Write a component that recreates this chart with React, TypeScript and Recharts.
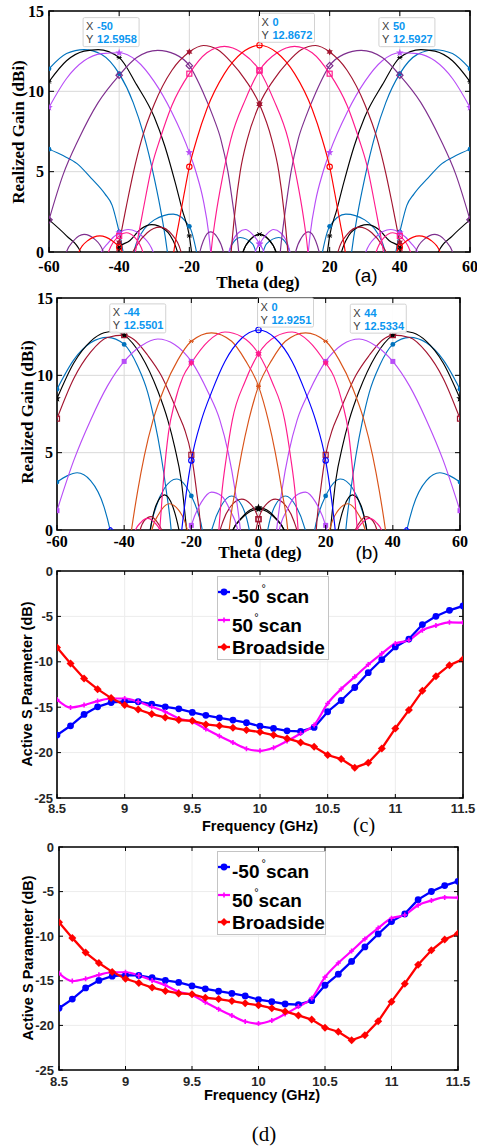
import React from 'react';
import { LineChart, Line, XAxis, YAxis, CartesianGrid, ReferenceArea, ReferenceDot } from 'recharts';

type Pt = [number, number];

// ---------- (a) realized gain patterns, [theta deg, gain dBi]
const aBlueL: Pt[] = [[-60, 11.4], [-55, 12.35], [-50, 12.6], [-45, 12.3], [-40, 11.1], [-36, 9.3], [-33, 7.3], [-30, 4.6], [-28, 2.4], [-26, -0.5], [-24, -6], [-3, -6], [0, -1], [2, 0.5], [5.5, 0.9], [8, 0.4], [10, -1.5], [14, -6], [17.5, -0.5], [20, 1.6], [24.6, 2.36], [30, 2.0], [35, 0.6], [37.5, -1], [40, 1.25], [42, 2.9], [44, 3.6], [48, 4.6], [52, 5.5], [56, 6.0], [60, 6.4]];
const aBlueR: Pt[] = [[-60, 6.4], [-56, 6.0], [-52, 5.5], [-48, 4.6], [-44, 3.6], [-42, 2.9], [-40, 1.25], [-37.5, -1], [-35, 0.6], [-30, 2.0], [-24.6, 2.36], [-20, 1.6], [-17.5, -0.5], [-14, -6], [-10, -1.5], [-8, 0.4], [-5.5, 0.9], [-2, 0.5], [0, -1], [3, -6], [24, -6], [26, -0.5], [28, 2.4], [30, 4.6], [33, 7.3], [36, 9.3], [40, 11.1], [45, 12.3], [50, 12.59], [55, 12.35], [60, 11.4]];
const aBlackL: Pt[] = [[-60, 10.6], [-55, 11.9], [-50, 12.5], [-46, 12.6], [-40, 12.1], [-35, 10.4], [-30, 8.4], [-27, 6.6], [-24, 4.3], [-22, 2.6], [-20, 1.0], [-18.8, -1], [-16, -6], [-7, -3], [-5, -0.2], [-2.5, 0.8], [0, 1.1], [2.5, 0.8], [5, -0.2], [7, -3], [15, -6], [22, -1], [24, 0.4], [27, 1.4], [30.7, 1.7], [34, 1.4], [37, 0.7], [40, 0.3], [42, -3], [49, -3], [51, 0], [55, 1.0], [60, 2.0]];
const aBlackR: Pt[] = [[-60, 2.0], [-55, 1.0], [-51, 0], [-49, -3], [-42, -3], [-40, 0.3], [-37, 0.7], [-34, 1.4], [-30.7, 1.7], [-27, 1.4], [-24, 0.4], [-22, -1], [-15, -6], [-7, -3], [-5, -0.2], [-2.5, 0.8], [0, 1.1], [2.5, 0.8], [5, -0.2], [7, -3], [16, -6], [18.8, -1], [20, 1.0], [22, 2.6], [24, 4.3], [27, 6.6], [30, 8.4], [35, 10.4], [40, 12.1], [46, 12.6], [50, 12.5], [55, 11.9], [60, 10.6]];
const aVioletL: Pt[] = [[-60, 9.0], [-55, 10.8], [-50, 11.9], [-45, 12.35], [-40, 12.4], [-35, 11.9], [-30, 10.6], [-25, 8.7], [-20, 6.2], [-18, 4.9], [-16, 3.2], [-14.5, 1.2], [-13.5, -1], [-12, -6], [-3, -3], [-1.5, -0.2], [0, 0.5], [2, 1.1], [4, 1.4], [6, 1.2], [8, 0.5], [9.5, -0.8], [12, -6], [28, -3], [30, -0.2], [33, 0.9], [37.4, 1.4], [40, 1.2], [43, 0.6], [46, -0.5], [48, -6]];
const aVioletR: Pt[] = [[-48, -6], [-46, -0.5], [-43, 0.6], [-40, 1.2], [-37.4, 1.4], [-33, 0.9], [-30, -0.2], [-28, -3], [-12, -6], [-9.5, -0.8], [-8, 0.5], [-6, 1.2], [-4, 1.4], [-2, 1.1], [0, 0.5], [1.5, -0.2], [3, -3], [12, -6], [13.5, -1], [14.5, 1.2], [16, 3.2], [18, 4.9], [20, 6.2], [25, 8.7], [30, 10.6], [35, 11.9], [40, 12.4], [45, 12.35], [50, 11.9], [55, 10.8], [60, 9.0]];
const aPurpleL: Pt[] = [[-60, 2.0], [-56, 4.8], [-51.6, 7.0], [-46, 9.3], [-40, 11.0], [-35, 12.1], [-29, 12.55], [-24, 12.3], [-20, 11.6], [-16, 9.9], [-13, 8.3], [-11, 7.0], [-9, 5.0], [-7.5, 2.8], [-6.2, 0.6], [-5.5, -1], [-4, -6], [8, -4], [10, -0.3], [12, 0.9], [14, 1.25], [16, 0.7], [17.5, -0.5], [20, -5], [42, -3], [44.5, 0], [47, 0.8], [50, 1.1], [53, 0.7], [55.5, -0.3], [58, -4]];
const aPurpleR: Pt[] = [[-58, -4], [-55.5, -0.3], [-53, 0.7], [-50, 1.1], [-47, 0.8], [-44.5, 0], [-42, -3], [-20, -5], [-17.5, -0.5], [-16, 0.7], [-14, 1.25], [-12, 0.9], [-10, -0.3], [-8, -4], [4, -6], [5.5, -1], [6.2, 0.6], [7.5, 2.8], [9, 5.0], [11, 7.0], [13, 8.3], [16, 9.9], [20, 11.6], [24, 12.3], [29, 12.55], [35, 12.1], [40, 11.0], [46, 9.3], [51.6, 7.0], [56, 4.8], [60, 2.0]];
const aDarkRedL: Pt[] = [[-43, -4], [-41, -0.3], [-40, 0.6], [-38, 2.8], [-36, 4.9], [-33.6, 7.0], [-30, 9.2], [-25, 11.3], [-20, 12.45], [-16, 12.85], [-12, 12.6], [-8, 11.8], [-4, 10.7], [0, 9.2], [3.5, 7.0], [5.5, 5.0], [7, 2.5], [8, 0.2], [8.7, -2], [10, -6], [20, -4], [22, -0.3], [25, 1.1], [28.4, 1.55], [32, 1.2], [35, 0.4], [37, -0.6], [39, -5]];
const aDarkRedR: Pt[] = [[-39, -5], [-37, -0.6], [-35, 0.4], [-32, 1.2], [-28.4, 1.55], [-25, 1.1], [-22, -0.3], [-20, -4], [-10, -6], [-8.7, -2], [-8, 0.2], [-7, 2.5], [-5.5, 5.0], [-3.5, 7.0], [0, 9.2], [4, 10.7], [8, 11.8], [12, 12.6], [16, 12.85], [20, 12.45], [25, 11.3], [30, 9.2], [33.6, 7.0], [36, 4.9], [38, 2.8], [40, 0.6], [41, -0.3], [43, -4]];
const aPinkL: Pt[] = [[-38, -4], [-35.5, -0.2], [-33, 2.8], [-30.5, 5.5], [-28.4, 7.0], [-25, 9.1], [-20, 11.1], [-15, 12.4], [-10, 12.8], [-5, 12.4], [0, 11.3], [4, 9.5], [8.2, 7.0], [10.5, 4.7], [12.5, 2.2], [13.8, 0], [14.5, -2], [16, -6], [31, -3], [33, -0.2], [35.5, 0.9], [38, 1.2], [40, 1.0], [43.5, -0.3], [46, -4]];
const aPinkR: Pt[] = [[-46, -4], [-43.5, -0.3], [-40, 1.0], [-38, 1.2], [-35.5, 0.9], [-33, -0.2], [-31, -3], [-16, -6], [-14.5, -2], [-13.8, 0], [-12.5, 2.2], [-10.5, 4.7], [-8.2, 7.0], [-4, 9.5], [0, 11.3], [5, 12.4], [10, 12.8], [15, 12.4], [20, 11.1], [25, 9.1], [28.4, 7.0], [30.5, 5.5], [33, 2.8], [35.5, -0.2], [38, -4]];
const aRed: Pt[] = [[-54, -4], [-52, -0.3], [-49, 0.7], [-45.5, 1.0], [-42, 0.7], [-40, 0.3], [-38.5, -0.3], [-36, -5], [-26, -4], [-24.6, -0.3], [-23, 1.8], [-21.5, 3.6], [-20, 5.3], [-17.9, 7.0], [-15, 8.9], [-10, 11.1], [-5, 12.4], [0, 12.87], [5, 12.4], [10, 11.1], [15, 8.9], [17.9, 7.0], [20, 5.3], [21.5, 3.6], [23, 1.8], [24.6, -0.3], [26, -4], [36, -5], [38.5, -0.3], [40, 0.3], [42, 0.7], [45.5, 1.0], [49, 0.7], [52, -0.3], [54, -4]];

// ---------- (b)
const bBlue0: Pt[] = [[-46.5, -1], [-44, 0.15], [-41.5, -1], [-25, -5], [-23, -0.3], [-21.5, 2.4], [-20, 4.5], [-17, 7.1], [-14, 8.9], [-10, 10.9], [-5, 12.4], [0, 12.93], [5, 12.4], [10, 10.9], [14, 8.9], [17, 7.1], [20, 4.5], [21.5, 2.4], [23, -0.3], [25, -5], [41.5, -1], [44, 0.15], [46.5, -1]];
const bMBlueL: Pt[] = [[-60, 9.1], [-55, 11.0], [-50, 12.1], [-45, 12.45], [-40, 12.0], [-36, 10.6], [-33, 8.9], [-31, 7.1], [-29, 4.8], [-27.5, 2.6], [-26, 0], [-25, -3], [-20, -6], [0, -5], [2.5, -0.3], [5, 1.6], [8, 2.2], [11, 1.6], [13.5, 0.3], [14.7, -0.8], [15.6, -3], [16.5, -0.4], [18, 1.1], [20, 2.2], [24.4, 3.3], [28, 2.7], [30.5, 1.5], [32.4, -0.3], [34, -5], [42, -3], [44, -0.2], [46, 1.5], [50, 3.2], [54, 3.7], [57, 3.5], [60, 3.1]];
const bMBlueR: Pt[] = [[-60, 3.1], [-57, 3.5], [-54, 3.7], [-50, 3.2], [-46, 1.5], [-44, -0.2], [-42, -3], [-34, -5], [-32.4, -0.3], [-30.5, 1.5], [-28, 2.7], [-24.4, 3.3], [-20, 2.2], [-18, 1.1], [-16.5, -0.4], [-15.6, -3], [-14.7, -0.8], [-13.5, 0.3], [-11, 1.6], [-8, 2.2], [-5, 1.6], [-2.5, -0.3], [0, -5], [20, -6], [25, -3], [26, 0], [27.5, 2.6], [29, 4.8], [31, 7.1], [33, 8.9], [36, 10.6], [40, 12.0], [45, 12.45], [50, 12.1], [55, 11.0], [60, 9.1]];
const bBlackL: Pt[] = [[-60, 8.5], [-55, 10.8], [-50, 12.2], [-46, 12.75], [-43, 12.85], [-40, 12.6], [-35, 11.3], [-30, 9.0], [-27, 7.1], [-25, 5.4], [-23, 3.2], [-21.5, 0.2], [-20.5, -2], [-18, -6], [-11, -4], [-8, -0.2], [-5, 0.8], [-2.5, 1.3], [0, 1.45], [2.5, 1.3], [5, 0.8], [8, -0.2], [11, -4], [21, -4], [23.5, -0.2], [25.5, 1.5], [28, 2.27], [30.5, 1.6], [32.4, -0.2], [35, -5]];
const bBlackR: Pt[] = [[-35, -5], [-32.4, -0.2], [-30.5, 1.6], [-28, 2.27], [-25.5, 1.5], [-23.5, -0.2], [-21, -4], [-11, -4], [-8, -0.2], [-5, 0.75], [-2.5, 1.2], [0, 1.35], [2.5, 1.2], [5, 0.75], [8, -0.2], [11, -4], [18, -6], [20.5, -2], [21.5, 0.2], [23, 3.2], [25, 5.4], [27, 7.1], [30, 9.0], [35, 11.3], [40, 12.6], [43, 12.85], [46, 12.75], [50, 12.2], [55, 10.8], [60, 8.5]];
const bDarkRedL: Pt[] = [[-60, 7.2], [-55, 9.8], [-50, 11.5], [-45, 12.45], [-40, 12.6], [-37, 12.3], [-33, 11.3], [-29, 10.0], [-26, 8.6], [-23.5, 7.3], [-22, 6.5], [-20, 4.86], [-18.5, 2.6], [-17.2, 0], [-16.5, -3], [-14, -6], [-3, -4], [-1, -0.3], [0, 0.7], [2.5, 1.7], [5, 2.0], [8, 1.6], [10.5, 0.6], [12, -0.6], [14, -5], [26, -3], [28.5, -0.2], [30.5, 0.6], [32, 0.86], [34, 0.6], [35.5, -0.2], [38, -4]];
const bDarkRedR: Pt[] = [[-38, -4], [-35.5, -0.2], [-34, 0.6], [-32, 0.86], [-30.5, 0.6], [-28.5, -0.2], [-26, -3], [-14, -5], [-12, -0.6], [-10.5, 0.6], [-8, 1.6], [-5, 2.0], [-2.5, 1.7], [0, 0.7], [1, -0.3], [3, -4], [14, -6], [16.5, -3], [17.2, 0], [18.5, 2.6], [20, 4.86], [22, 6.5], [23.5, 7.3], [26, 8.6], [29, 10.0], [33, 11.3], [37, 12.3], [40, 12.6], [45, 12.45], [50, 11.5], [55, 9.8], [60, 7.2]];
const bVioletL: Pt[] = [[-60, 1.25], [-55, 4.5], [-50, 7.1], [-45, 9.3], [-40, 10.9], [-35, 11.9], [-30, 12.35], [-25, 12.0], [-20, 10.9], [-15, 8.9], [-11.5, 7.1], [-9, 5.0], [-7, 2.6], [-5.5, 0.2], [-4.5, -2], [-2, -6], [4, -4], [6, -0.2], [8.5, 1.3], [11, 2.2], [14, 2.45], [17, 1.8], [20, 0.3], [21, -0.5], [23, -4]];
const bVioletR: Pt[] = [[-23, -4], [-21, -0.5], [-20, 0.3], [-17, 1.8], [-14, 2.45], [-11, 2.2], [-8.5, 1.3], [-6, -0.2], [-4, -4], [2, -6], [4.5, -2], [5.5, 0.2], [7, 2.6], [9, 5.0], [11.5, 7.1], [15, 8.9], [20, 10.9], [25, 12.0], [30, 12.35], [35, 11.9], [40, 10.9], [45, 9.3], [50, 7.1], [55, 4.5], [60, 1.25]];
const bOrangeL: Pt[] = [[-40, -4], [-38, -0.3], [-36, 2.5], [-34, 4.8], [-31.4, 7.1], [-28, 9.2], [-24, 11.0], [-20, 12.2], [-14, 12.75], [-8, 12.2], [-4, 11.0], [0, 9.3], [2.9, 7.1], [5, 5.0], [7, 2.5], [8.8, -0.2], [10, -4], [19, -4], [21, -0.2], [23.5, 1.2], [26.6, 1.7], [29.5, 1.1], [32, -0.2], [34, -4]];
const bOrangeR: Pt[] = [[-34, -4], [-32, -0.2], [-29.5, 1.1], [-26.6, 1.7], [-23.5, 1.2], [-21, -0.2], [-19, -4], [-10, -4], [-8.8, -0.2], [-7, 2.5], [-5, 5.0], [-2.9, 7.1], [0, 9.3], [4, 11.0], [8, 12.2], [14, 12.75], [20, 12.2], [24, 11.0], [28, 9.2], [31.4, 7.1], [34, 4.8], [36, 2.5], [38, -0.3], [40, -4]];
const bPinkL: Pt[] = [[-32, -4], [-29.5, -0.2], [-28.3, 3.2], [-26.8, 6.3], [-25, 8.2], [-22.5, 9.9], [-20, 10.8], [-15, 12.2], [-10, 12.8], [-5, 12.5], [0, 11.4], [4, 9.6], [7.8, 7.1], [9.5, 4.8], [11, 2.2], [11.8, 0], [12.5, -2.5], [14, -6], [27, -4], [29, -0.2], [31, 0.5], [33, 0.75], [35, 0.5], [37, -0.2], [39, -4]];
const bPinkR: Pt[] = [[-39, -4], [-37, -0.2], [-35, 0.5], [-33, 0.75], [-31, 0.5], [-29, -0.2], [-27, -4], [-14, -6], [-12.5, -2.5], [-11.8, 0], [-11, 2.2], [-9.5, 4.8], [-7.8, 7.1], [-4, 9.6], [0, 11.4], [5, 12.5], [10, 12.8], [15, 12.2], [20, 10.8], [22.5, 9.9], [25, 8.2], [26.8, 6.3], [28.3, 3.2], [29.5, -0.2], [32, -4]];

const thetaTicks = [-60, -40, -20, 0, 20, 40, 60];
const gainTicks = [0, 5, 10, 15];

const tipXA = [-50, 0, 50];
const tipYA = [12.5958, 12.8672, 12.5927];
const tipXB = [-44, 0, 44];
const tipYB = [12.5501, 12.9251, 12.5334];

// ---------- (c)/(d) active S parameter
const freqGHz = [8.5, 8.6, 8.7, 8.8, 8.9, 9.0, 9.1, 9.2, 9.3, 9.4, 9.5, 9.6, 9.7, 9.8, 9.9, 10.0, 10.1, 10.2, 10.3, 10.4, 10.5, 10.6, 10.7, 10.8, 10.9, 11.0, 11.1, 11.2, 11.3, 11.4, 11.5];
const scanNeg50 = [-18.07, -17.05, -15.8, -14.96, -14.48, -14.37, -14.4, -14.66, -14.96, -15.18, -15.58, -15.9, -16.17, -16.42, -16.7, -17.1, -17.34, -17.6, -17.67, -17.23, -15.5, -14.26, -12.83, -11.2, -9.75, -8.36, -7.5, -5.9, -4.99, -4.33, -3.85];
const scan50 = [-14.15, -15.03, -14.77, -14.33, -14.04, -14.04, -14.4, -14.96, -15.5, -16.24, -16.6, -17.41, -18.18, -18.9, -19.57, -19.8, -19.46, -18.73, -17.89, -16.97, -14.59, -13.0, -11.66, -10.3, -9.09, -7.99, -7.62, -6.52, -6.01, -5.65, -5.68];
const broadside = [-8.43, -10.19, -11.84, -13.01, -14.0, -14.77, -15.25, -15.76, -16.13, -16.42, -16.5, -16.9, -17.05, -17.27, -17.52, -17.74, -18.07, -18.44, -18.88, -19.35, -20.27, -20.71, -21.66, -21.11, -19.54, -17.34, -15.32, -13.2, -11.58, -10.37, -9.71];
const freqTicks = [8.5, 9, 9.5, 10, 10.5, 11, 11.5];
const sTicks = [-25, -20, -15, -10, -5, 0];

const sRows = freqGHz.map((f, i) => ({ f, neg50: scanNeg50[i], pos50: scan50[i], broad: broadside[i] }));
const toXY = (pts: Pt[]) => pts.map(([x, y]) => ({ x, y }));

const SERIF = "'Liberation Serif', 'Times New Roman', serif";
const SANS = "'Liberation Sans', Arial, Helvetica, sans-serif";

const COL = {
  blue: '#0072BD', black: '#000000', violet: '#B84DF7', purple: '#7E2F8E', darkred: '#A2142F',
  pink: '#FF1A8C', red: '#FF0000', orange: '#D95319', pureblue: '#0000FF',
};

const seriesA = [
  { pts: aBlueL, color: COL.blue, m: 'dot' }, { pts: aBlueR, color: COL.blue, m: 'dot' },
  { pts: aBlackL, color: COL.black, m: 'aster' }, { pts: aBlackR, color: COL.black, m: 'aster' },
  { pts: aVioletL, color: COL.violet, m: 'star5' }, { pts: aVioletR, color: COL.violet, m: 'star5' },
  { pts: aPurpleL, color: COL.purple, m: 'odiamond' }, { pts: aPurpleR, color: COL.purple, m: 'odiamond' },
  { pts: aDarkRedL, color: COL.darkred, m: 'star6' }, { pts: aDarkRedR, color: COL.darkred, m: 'star6' },
  { pts: aPinkL, color: COL.pink, m: 'osquare' }, { pts: aPinkR, color: COL.pink, m: 'osquare' },
  { pts: aRed, color: COL.red, m: 'ring' },
];

const seriesB = [
  { pts: bMBlueL, color: COL.blue, m: 'dot' }, { pts: bMBlueR, color: COL.blue, m: 'dot' },
  { pts: bBlackL, color: COL.black, m: 'star5' }, { pts: bBlackR, color: COL.black, m: 'star5' },
  { pts: bDarkRedL, color: COL.darkred, m: 'osquare' }, { pts: bDarkRedR, color: COL.darkred, m: 'osquare' },
  { pts: bVioletL, color: COL.violet, m: 'square' }, { pts: bVioletR, color: COL.violet, m: 'square' },
  { pts: bOrangeL, color: COL.orange, m: 'aster' }, { pts: bOrangeR, color: COL.orange, m: 'aster' },
  { pts: bPinkL, color: COL.pink, m: 'star6' }, { pts: bPinkR, color: COL.pink, m: 'star6' },
  { pts: bBlue0, color: COL.pureblue, m: 'ring' },
];

const starPts = (cx: number, cy: number, n: number, ro: number, ri: number) => {
  const out: string[] = [];
  for (let k = 0; k < n * 2; k++) {
    const r = k % 2 === 0 ? ro : ri;
    const a = -Math.PI / 2 + (k * Math.PI) / n;
    out.push(`${cx + r * Math.cos(a)},${cy + r * Math.sin(a)}`);
  }
  return out.join(' ');
};

const drawMarker = (m: string, cx: number, cy: number, c: string) => {
  switch (m) {
    case 'dot': return <circle cx={cx} cy={cy} r={2.4} fill={c} />;
    case 'dot4': return <circle cx={cx} cy={cy} r={3.4} fill={c} />;
    case 'ring': return <circle cx={cx} cy={cy} r={2.7} fill="none" stroke={c} strokeWidth={1.1} />;
    case 'star5': return <polygon points={starPts(cx, cy, 5, 4, 1.7)} fill={c} />;
    case 'star6': return <polygon points={starPts(cx, cy, 6, 3.6, 1.9)} fill={c} />;
    case 'square': return <rect x={cx - 2.5} y={cy - 2.5} width={5} height={5} fill={c} />;
    case 'osquare': return <rect x={cx - 2.5} y={cy - 2.5} width={5} height={5} fill="none" stroke={c} strokeWidth={1.2} />;
    case 'odiamond': return <polygon points={`${cx},${cy - 3.2} ${cx + 3.2},${cy} ${cx},${cy + 3.2} ${cx - 3.2},${cy}`} fill="none" stroke={c} strokeWidth={1.2} />;
    case 'diamond': return <polygon points={`${cx},${cy - 4} ${cx + 4},${cy} ${cx},${cy + 4} ${cx - 4},${cy}`} fill={c} />;
    case 'plus': return <path d={`M${cx - 2.5},${cy}H${cx + 2.5}M${cx},${cy - 2.5}V${cy + 2.5}`} stroke={c} strokeWidth={1.6} />;
    default: return <path d={`M${cx - 2.5},${cy}H${cx + 2.5}M${cx - 1.8},${cy - 1.8}L${cx + 1.8},${cy + 1.8}M${cx - 1.8},${cy + 1.8}L${cx + 1.8},${cy - 1.8}`} stroke={c} strokeWidth={1} />;
  }
};

// markers only every 20 deg, like the original plot
const patternDot = (m: string, c: string) => (p: any) => {
  const { cx, cy, payload, index } = p;
  const show = payload && payload.x % 20 === 0 && payload.y >= 0 && payload.y <= 15;
  return <g key={`m${index}`}>{show ? drawMarker(m, cx, cy, c) : null}</g>;
};

const everyDot = (m: string, c: string) => (p: any) => (
  <g key={`m${p.index}`}>{drawMarker(m, p.cx, p.cy, c)}</g>
);

type Geo = { w: number; h: number; top: number; right: number; yw: number; xh: number };
type TickOpt = { font: string; size: number; color: string; dy: number; gap: number; len: number };

const mkXTick = (g: Geo, o: TickOpt) => (p: any) => {
  const { x, y, payload } = p;
  return (
    <g>
      <line x1={x} x2={x} y1={y} y2={y - o.len} stroke="#000" strokeWidth={1} />
      <line x1={x} x2={x} y1={g.top} y2={g.top + o.len} stroke="#000" strokeWidth={1} />
      <text x={x} y={y + o.dy} textAnchor="middle" fontFamily={o.font} fontWeight="bold" fontSize={o.size} fill={o.color}>
        {String(payload.value)}
      </text>
    </g>
  );
};

const mkYTick = (g: Geo, o: TickOpt) => (p: any) => {
  const { x, y, payload } = p;
  const right = g.w - g.right;
  return (
    <g>
      <line x1={x} x2={x + o.len} y1={y} y2={y} stroke="#000" strokeWidth={1} />
      <line x1={right} x2={right - o.len} y1={y} y2={y} stroke="#000" strokeWidth={1} />
      <text x={x - o.gap} y={y + o.size * 0.35} textAnchor="end" fontFamily={o.font} fontWeight="bold" fontSize={o.size} fill={o.color}>
        {String(payload.value)}
      </text>
    </g>
  );
};

const TipBox = ({ cx, cy, xv, yv, side }: { cx: number; cy: number; xv: number; yv: number; side: string }) => {
  const w = 56, h = 29;
  const left = side === 'right' ? cx - 1 : cx - w;
  const top = cy - h - 3;
  return (
    <g>
      <rect x={left} y={top} width={w} height={h} rx={1.5} fill="#ffffff" fillOpacity={0.93} stroke="#d2d2d2" strokeWidth={1} />
      <text x={left + 3} y={top + 12.5} fontFamily={SANS} fontSize={11} fill="#404040">X</text>
      <text x={left + 14} y={top + 12.5} fontFamily={SANS} fontSize={11} fontWeight="bold" fill="#0A96F0">{String(xv)}</text>
      <text x={left + 3} y={top + 25.5} fontFamily={SANS} fontSize={11} fill="#404040">Y</text>
      <text x={left + 14} y={top + 25.5} fontFamily={SANS} fontSize={11} fontWeight="bold" fill="#0A96F0">{String(yv)}</text>
    </g>
  );
};

const PatternChart = ({ g, series, tipX, tipY, dy, gap }: { g: Geo; series: any[]; tipX: number[]; tipY: number[]; dy: number; gap: number }) => {
  const opt: TickOpt = { font: SERIF, size: 16, color: '#000', dy, gap, len: 5 };
  return (
    <LineChart width={g.w} height={g.h} margin={{ top: g.top, right: g.right, left: 0, bottom: 0 }}>
      <CartesianGrid stroke="#d9d9d9" strokeWidth={1} />
      <XAxis type="number" dataKey="x" domain={[-60, 60]} ticks={thetaTicks} interval={0} allowDataOverflow
        height={g.xh} tickSize={0} tickMargin={0} axisLine={false} tickLine={false} tick={mkXTick(g, opt)} />
      <YAxis type="number" domain={[0, 15]} ticks={gainTicks} interval={0} allowDataOverflow
        width={g.yw} tickSize={0} tickMargin={0} axisLine={false} tickLine={false} tick={mkYTick(g, opt)} />
      {series.map((s, i) => (
        <Line key={i} data={toXY(s.pts)} dataKey="y" type="monotone" stroke={s.color} strokeWidth={1.15}
          dot={patternDot(s.m, s.color)} activeDot={false} isAnimationActive={false} />
      ))}
      <ReferenceArea x1={-60} x2={60} y1={0} y2={15} fill="none" stroke="#000" strokeWidth={1.6} ifOverflow="visible" />
      {tipX.map((x, i) => (
        <ReferenceDot key={`t${i}`} x={x} y={tipY[i]} r={0} ifOverflow="visible"
          shape={(p: any) => <TipBox cx={p.cx} cy={p.cy} xv={x} yv={tipY[i]} side={i === 2 ? 'left' : 'right'} />} />
      ))}
    </LineChart>
  );
};

const SChart = ({ g, dy, gap }: { g: Geo; dy: number; gap: number }) => {
  const opt: TickOpt = { font: SANS, size: 13, color: '#262626', dy, gap, len: 4 };
  return (
    <LineChart width={g.w} height={g.h} data={sRows} margin={{ top: g.top, right: g.right, left: 0, bottom: 0 }}>
      <CartesianGrid stroke="#ececec" strokeWidth={1} />
      <XAxis type="number" dataKey="f" domain={[8.5, 11.5]} ticks={freqTicks} interval={0} allowDataOverflow
        height={g.xh} tickSize={0} tickMargin={0} axisLine={false} tickLine={false} tick={mkXTick(g, opt)} />
      <YAxis type="number" domain={[-25, 0]} ticks={sTicks} interval={0} allowDataOverflow
        width={g.yw} tickSize={0} tickMargin={0} axisLine={false} tickLine={false} tick={mkYTick(g, opt)} />
      <Line dataKey="neg50" type="linear" stroke="#0000FF" strokeWidth={2.3} dot={everyDot('dot4', '#0000FF')} activeDot={false} isAnimationActive={false} />
      <Line dataKey="pos50" type="monotone" stroke="#FF00FF" strokeWidth={2.2} dot={everyDot('plus', '#FF00FF')} activeDot={false} isAnimationActive={false} />
      <Line dataKey="broad" type="linear" stroke="#FF0000" strokeWidth={2.3} dot={everyDot('diamond', '#FF0000')} activeDot={false} isAnimationActive={false} />
      <ReferenceArea x1={8.5} x2={11.5} y1={-25} y2={0} fill="none" stroke="#000" strokeWidth={1.6} ifOverflow="visible" />
    </LineChart>
  );
};

const LegendBox = ({ left, top, width }: { left: number; top: number; width: number }) => {
  const t = { fontFamily: SANS, fontWeight: 'bold' as const, fontSize: 19, fill: '#000' };
  return (
    <svg style={{ position: 'absolute', left, top }} width={width + 2} height={86}>
      <rect x={0.5} y={0.5} width={width} height={83} fill="#fff" stroke="#c4c4c4" strokeWidth={1} />
      <line x1={1} x2={13} y1={16} y2={16} stroke="#0000FF" strokeWidth={2.3} />
      <circle cx={7} cy={16} r={3.4} fill="#0000FF" />
      <text x={15} y={27} {...t}>-50<tspan dx={2} dy={-11} fontSize={11} fontWeight="normal">°</tspan><tspan dx={0} dy={11}>scan</tspan></text>
      <line x1={1} x2={13} y1={44} y2={44} stroke="#FF00FF" strokeWidth={2.2} />
      <path d="M4.5,44H9.5M7,41.5V46.5" stroke="#FF00FF" strokeWidth={1.6} />
      <text x={15} y={56} {...t}>50<tspan dx={1} dy={-11} fontSize={11} fontWeight="normal">°</tspan><tspan dx={0} dy={11}>scan</tspan></text>
      <line x1={1} x2={13} y1={71} y2={71} stroke="#FF0000" strokeWidth={2.3} />
      <polygon points="7,67 11,71 7,75 3,71" fill="#FF0000" />
      <text x={15} y={78} {...t}>Broadside</text>
    </svg>
  );
};

const Lbl = ({ x, y, rot, font, size, bold, children }: any) => (
  <div style={{
    position: 'absolute', left: x, top: y, transform: `translate(-50%, -50%)${rot ? ' rotate(-90deg)' : ''}`,
    whiteSpace: 'nowrap', fontFamily: font, fontSize: size, fontWeight: bold ? 'bold' : 'normal', lineHeight: 1, color: '#000',
  }}>{children}</div>
);

const G_A: Geo = { w: 477, h: 295, top: 11, right: 7, yw: 49, xh: 43 };
const G_B: Geo = { w: 477, h: 280, top: 18, right: 17, yw: 57, xh: 30 };
const G_C: Geo = { w: 477, h: 280, top: 11, right: 14, yw: 57, xh: 42 };
const G_D: Geo = { w: 477, h: 260, top: 7, right: 19, yw: 59, xh: 30 };

export default function App() {
  return (
    <div style={{ position: 'absolute', left: 0, top: 0, width: 477, height: 1147, background: '#fff', overflow: 'hidden' }}>
      <div style={{ position: 'absolute', left: 0, top: 0 }}>
        <PatternChart g={G_A} series={seriesA} tipX={tipXA} tipY={tipYA} dy={20} gap={5} />
      </div>
      <div style={{ position: 'absolute', left: 0, top: 280 }}>
        <PatternChart g={G_B} series={seriesB} tipX={tipXB} tipY={tipYB} dy={17} gap={4} />
      </div>
      <div style={{ position: 'absolute', left: 0, top: 560 }}>
        <SChart g={G_C} dy={15} gap={4} />
      </div>
      <div style={{ position: 'absolute', left: 0, top: 840 }}>
        <SChart g={G_D} dy={16} gap={5} />
      </div>

      <Lbl x={18} y={132} rot font={SERIF} size={17} bold>Realized Gain (dBi)</Lbl>
      <Lbl x={258} y={282} font={SERIF} size={17} bold>Theta (deg)</Lbl>
      <Lbl x={366} y={275} font={SANS} size={19}>(a)</Lbl>

      <Lbl x={27} y={412} rot font={SERIF} size={17} bold>Realized Gain (dBi)</Lbl>
      <Lbl x={260} y={552} font={SERIF} size={17} bold>Theta (deg)</Lbl>
      <Lbl x={367} y={552} font={SANS} size={19}>(b)</Lbl>

      <LegendBox left={217} top={576} width={111} />
      <Lbl x={26.5} y={684} rot font={SANS} size={14.5} bold>Active S Parameter (dB)</Lbl>
      <Lbl x={260} y={826} font={SANS} size={14.5} bold>Frequency (GHz)</Lbl>
      <Lbl x={364} y={825} font={SERIF} size={20}>(c)</Lbl>

      <LegendBox left={217} top={851} width={108} />
      <Lbl x={28} y={958} rot font={SANS} size={14.5} bold>Active S Parameter (dB)</Lbl>
      <Lbl x={262} y={1095} font={SANS} size={14.5} bold>Frequency (GHz)</Lbl>
      <Lbl x={264} y={1134} font={SERIF} size={21}>(d)</Lbl>
    </div>
  );
}
